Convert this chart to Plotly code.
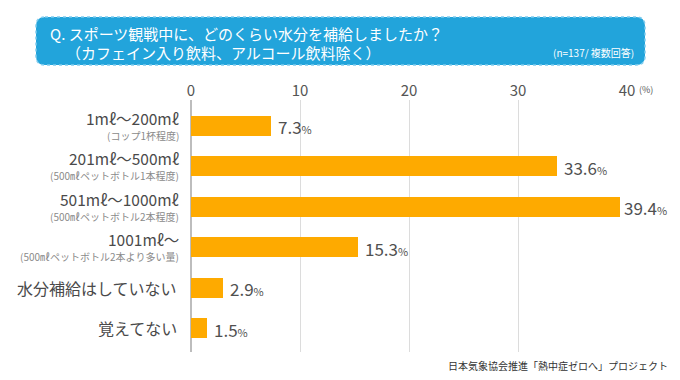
import plotly.graph_objects as go

# ---- data ----
main_labels = ["1mℓ～200mℓ", "201mℓ～500mℓ", "501mℓ～1000mℓ", "1001mℓ～", "水分補給はしていない", "覚えてない"]
sub_labels = ["(コップ1杯程度)", "(500㎖ペットボトル1本程度)", "(500㎖ペットボトル2本程度)", "(500㎖ペットボトル2本より多い量)", "", ""]
values = [7.3, 33.6, 39.4, 15.3, 2.9, 1.5]
x_ticks = [0, 10, 20, 30, 40]

title_line1 = "Q. スポーツ観戦中に、どのくらい水分を補給しましたか？"
title_line2 = "（カフェイン入り飲料、アルコール飲料除く）"
note_text = "(n=137/ 複数回答)"
source_text = "日本気象協会推進「熱中症ゼロへ」プロジェクト"

W, H = 680, 380
ML, MR, MT, MB = 191, 53, 100, 28
PW, PH = W - ML - MR, H - MT - MB
FONT = "Noto Sans CJK JP, Noto Sans, sans-serif"


def px(x):
    return (x - ML) / PW


def py(y):
    return (H - MB - y) / PH


fig = go.Figure()
fig.add_trace(go.Bar(
    x=values, y=main_labels, orientation="h",
    marker=dict(color="#FEAA00", line=dict(width=0)),
    width=0.49, hoverinfo="skip",
))

annotations = []
# y labels
for lab, sub in zip(main_labels, sub_labels):
    if sub:
        annotations.append(dict(x=0, xref="paper", y=lab, yref="y", text=lab,
                                xanchor="right", yanchor="middle", xshift=-10, yshift=8,
                                showarrow=False, font=dict(size=15.5, color="#4a4a4a", family=FONT)))
        annotations.append(dict(x=0, xref="paper", y=lab, yref="y", text=sub,
                                xanchor="right", yanchor="middle", xshift=-10, yshift=-9.5,
                                showarrow=False, font=dict(size=10, color="#8a8a8a", family=FONT)))
    else:
        annotations.append(dict(x=0, xref="paper", y=lab, yref="y", text=lab,
                                xanchor="right", yanchor="middle", xshift=-12, yshift=0,
                                showarrow=False, font=dict(size=16, color="#4a4a4a", family=FONT)))
# value labels
for lab, v in zip(main_labels, values):
    annotations.append(dict(x=v, xref="x", y=lab, yref="y",
                            text=f"{v:.1f}<span style='font-size:11px'>%</span>",
                            xanchor="left", yanchor="middle", xshift=2 if v > 38 else 5, yshift=-1,
                            showarrow=False, font=dict(size=17, color="#505050", family=FONT)))
# percent unit by 40
annotations.append(dict(x=px(637), xref="paper", y=py(90), yref="paper", text="(%)",
                        xanchor="left", yanchor="middle", showarrow=False,
                        font=dict(size=9, color="#555555", family=FONT)))
# title texts
annotations.append(dict(x=px(48), xref="paper", y=py(33), yref="paper", text=title_line1,
                        xanchor="left", yanchor="middle", showarrow=False,
                        font=dict(size=15, color="white", family=FONT)))
annotations.append(dict(x=px(64), xref="paper", y=py(52), yref="paper", text=title_line2,
                        xanchor="left", yanchor="middle", showarrow=False,
                        font=dict(size=15, color="white", family=FONT)))
annotations.append(dict(x=px(636), xref="paper", y=py(52), yref="paper", text=note_text,
                        xanchor="right", yanchor="middle", showarrow=False,
                        font=dict(size=10, color="white", family=FONT)))
annotations.append(dict(x=px(670), xref="paper", y=py(365), yref="paper", text=source_text,
                        xanchor="right", yanchor="middle", showarrow=False,
                        font=dict(size=10, color="#333333", family=FONT)))

# title box (rounded rectangle)
x0, x1, y0, y1, r = 36, 645, 17, 65, 9


def box_path(x0, x1, y0, y1, r):
    pts = [
        f"M {px(x0 + r)},{py(y0)}",
        f"L {px(x1 - r)},{py(y0)}",
        f"Q {px(x1)},{py(y0)} {px(x1)},{py(y0 + r)}",
        f"L {px(x1)},{py(y1 - r)}",
        f"Q {px(x1)},{py(y1)} {px(x1 - r)},{py(y1)}",
        f"L {px(x0 + r)},{py(y1)}",
        f"Q {px(x0)},{py(y1)} {px(x0)},{py(y1 - r)}",
        f"L {px(x0)},{py(y0 + r)}",
        f"Q {px(x0)},{py(y0)} {px(x0 + r)},{py(y0)} Z",
    ]
    return " ".join(pts)


shapes = [
    dict(type="path", xref="paper", yref="paper", path=box_path(x0, x1, y0, y1, r),
         fillcolor="#22A4DB", line=dict(color="#7FCCEE", width=1.5, dash="dot"), layer="below"),
]

fig.update_layout(
    width=W, height=H,
    margin=dict(l=ML, r=MR, t=MT, b=MB),
    paper_bgcolor="white", plot_bgcolor="white",
    showlegend=False,
    bargap=0,
    xaxis=dict(range=[0, 40], side="top", tickvals=x_ticks, ticktext=[str(t) for t in x_ticks],
               showgrid=True, gridcolor="#dcdcdc", gridwidth=1,
               zeroline=True, zerolinecolor="#bdbdbd", zerolinewidth=1.5,
               ticks="", showline=False, fixedrange=True,
               tickfont=dict(size=15, color="#555555", family=FONT)),
    yaxis=dict(type="category", categoryarray=main_labels, range=[5.59, -0.635],
               showticklabels=False, showgrid=False, zeroline=False, ticks="", fixedrange=True),
    annotations=annotations,
    shapes=shapes,
    font=dict(family=FONT),
)

fig.write_html("out.html", config={"displayModeBar": False},
               post_script="document.body.style.margin='0';document.body.style.overflow='hidden';")
